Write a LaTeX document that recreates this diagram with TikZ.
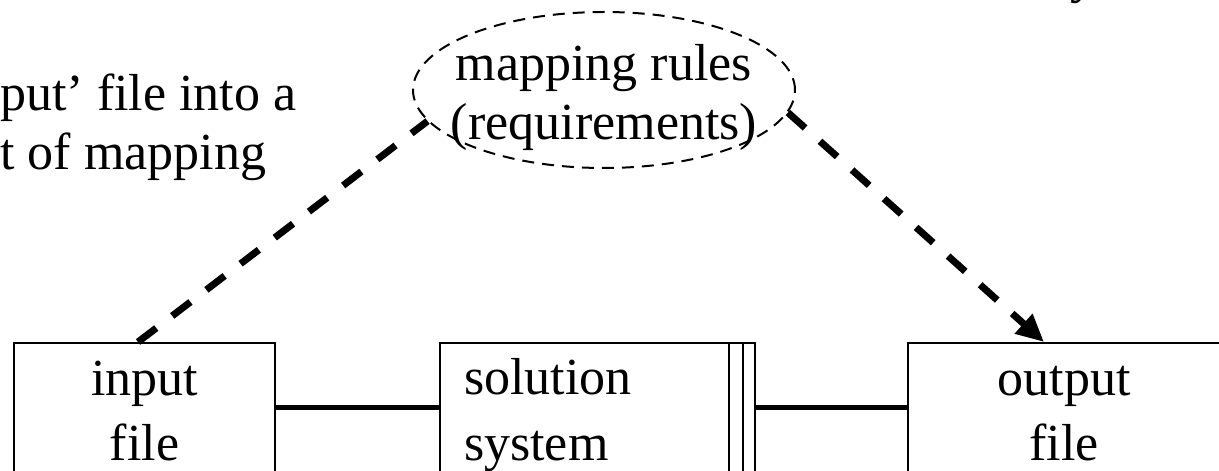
\documentclass[tikz,border=0pt]{standalone}
\usepackage{fontspec}
\setmainfont{Liberation Serif}
\usetikzlibrary{shapes.geometric, arrows.meta, positioning}

\newcommand{\slidefont}{\fontsize{29.6pt}{34pt}\selectfont}
\newcommand{\boxfont}{\fontsize{29.6pt}{37.5pt}\selectfont}

\begin{document}
\begin{tikzpicture}[
        font=\slidefont,
        filebox/.style={rectangle, draw=black, line width=0.04cm, minimum width=5.22cm, inner xsep=0pt, inner ysep=0pt, text height=2.36cm, text depth=0.24cm, align=center, font=\boxfont},
        rulebubble/.style={ellipse, draw=black, line width=0.04cm, dash pattern=on 0.24cm off 0.16cm, minimum width=7.64cm, minimum height=3.12cm, inner xsep=-0.5cm, inner ysep=0pt, text height=2.065cm, text depth=0.065cm, align=center},
        wire/.style={line width=0.1cm},
        mapline/.style={line width=0.14cm, dash pattern=on 0.46cm off 0.4cm},
        maparrow/.style={mapline, -{Triangle[length=0.55cm, width=0.5cm]}}
    ]
    \path[use as bounding box] (0,0) rectangle (24.38,-9.42);
    \clip (0,0) rectangle (24.38,-9.42);

    % text running in from the left of the slide
    \node (note) [anchor=base west, inner sep=0pt, align=left] at (0,-3.4) {put’ file into a\\t of mapping};
    \node (tail) [anchor=base west, inner sep=0pt] at (21.4,0.14) {y};

    \node (rules) [rulebubble] at (12.08,-1.8) {mapping rules\\(requirements)};

    \node (infile) [filebox] at (2.89,-8.16) {input\\file};
    \node (solver) [filebox, right=3.26cm of infile, minimum width=6.3cm, text width=5.34cm, inner xsep=0.48cm, text height=1.04cm, text depth=1.56cm, align=left] {solution\\system};
    \node (outfile) [filebox, right=3.02cm of solver, minimum width=6.24cm] {output\\file};

    % double bar on the right side of the system box
    \draw [line width=0.04cm] ([xshift=-0.26cm]solver.north east) -- ([xshift=-0.26cm]solver.south east);
    \draw [line width=0.04cm] ([xshift=-0.54cm]solver.north east) -- ([xshift=-0.54cm]solver.south east);

    \draw [wire] (infile) -- (solver);
    \draw [wire] (solver) -- (outfile);

    \draw [mapline] ([xshift=-0.13cm]infile.north) -- (rules.190);
    \draw [maparrow] (rules.-7) -- ([xshift=-0.4cm]outfile.north);

    \end{tikzpicture}
\end{document}
